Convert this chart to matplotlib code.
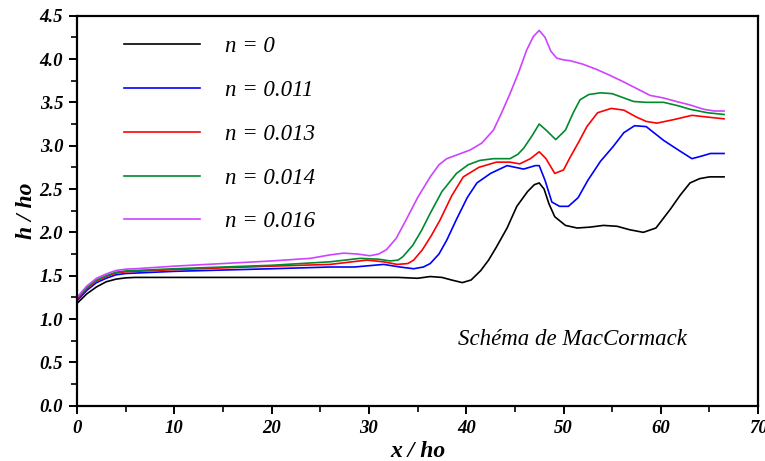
import matplotlib
matplotlib.use("Agg")
import matplotlib.pyplot as plt
from matplotlib.ticker import MultipleLocator, FormatStrFormatter

x_n0 = [0, 1, 2, 3, 4, 5, 6, 10, 15, 20, 26, 30, 33, 35, 36.3, 37.5, 38.5, 39.6, 40.5, 41.5,
        42.3, 43.1, 44.2, 45.2, 46.3, 47.0, 47.5, 48.0, 48.5, 49.1, 50.2, 51.4, 52.7, 54.1,
        55.5, 56.8, 58.2, 59.5, 61.0, 62.0, 63.0, 64.0, 65.0, 66.5]
h_n0 = [1.18, 1.29, 1.37, 1.43, 1.46, 1.475, 1.48, 1.48, 1.48, 1.48, 1.48, 1.48, 1.48, 1.47,
        1.49, 1.48, 1.45, 1.42, 1.45, 1.56, 1.68, 1.83, 2.05, 2.30, 2.47, 2.55, 2.57, 2.50,
        2.33, 2.18, 2.08, 2.05, 2.06, 2.08, 2.07, 2.03, 2.00, 2.05, 2.27, 2.43, 2.57, 2.62,
        2.64, 2.64]

x_n011 = [0, 1, 2, 3, 4, 5, 6, 10, 15, 20, 26, 28.5, 31.5, 33.2, 34.6, 35.6, 36.3, 37.2,
          38.0, 39.0, 40.1, 41.1, 42.5, 44.2, 45.9, 47.1, 47.5, 48.1, 48.8, 49.6, 50.5,
          51.5, 52.5, 53.8, 55.1, 56.2, 57.3, 58.5, 60.3, 61.8, 63.2, 64.2, 65.1, 66.5]
h_n011 = [1.21, 1.33, 1.42, 1.47, 1.51, 1.525, 1.53, 1.55, 1.565, 1.58, 1.60, 1.60, 1.63,
          1.60, 1.58, 1.60, 1.64, 1.75, 1.91, 2.15, 2.40, 2.57, 2.68, 2.77, 2.73, 2.77, 2.77,
          2.60, 2.35, 2.30, 2.30, 2.40, 2.60, 2.82, 2.99, 3.15, 3.23, 3.22, 3.06, 2.95, 2.85,
          2.88, 2.91, 2.91]

x_n013 = [0, 1, 2, 3, 4, 5, 6, 10, 15, 20, 26, 29.8, 31.5, 32.9, 34.0, 34.6, 35.5, 36.4,
          37.3, 38.5, 39.7, 41.3, 43.1, 44.5, 45.5, 46.6, 47.5, 48.2, 49.1, 50.0, 50.7,
          51.6, 52.4, 53.5, 54.9, 56.2, 57.5, 58.5, 59.6, 61.3, 63.2, 64.8, 66.5]
h_n013 = [1.23, 1.35, 1.44, 1.49, 1.53, 1.545, 1.55, 1.57, 1.59, 1.61, 1.63, 1.68, 1.66,
          1.63, 1.64, 1.68, 1.80, 1.96, 2.14, 2.42, 2.64, 2.75, 2.81, 2.81, 2.79, 2.85, 2.93,
          2.85, 2.68, 2.72, 2.87, 3.05, 3.22, 3.38, 3.43, 3.41, 3.33, 3.28, 3.26, 3.30, 3.35,
          3.33, 3.31]

x_n014 = [0, 1, 2, 3, 4, 5, 6, 10, 15, 20, 26, 29.1, 31.0, 32.2, 33.0, 33.5, 34.5, 35.4,
          36.3, 37.5, 39.0, 40.2, 41.4, 42.8, 44.5, 45.3, 45.9, 46.8, 47.5, 48.3, 49.2,
          50.2, 51.0, 51.7, 52.6, 53.8, 55.0, 57.2, 58.5, 60.3, 61.8, 63.0, 64.8, 66.5]
h_n014 = [1.24, 1.36, 1.45, 1.50, 1.54, 1.555, 1.56, 1.58, 1.60, 1.62, 1.66, 1.70, 1.69,
          1.67, 1.68, 1.72, 1.85, 2.02, 2.22, 2.47, 2.68, 2.78, 2.83, 2.85, 2.85, 2.90, 2.97,
          3.12, 3.25, 3.17, 3.07, 3.18, 3.38, 3.53, 3.59, 3.61, 3.60, 3.51, 3.50, 3.50, 3.46,
          3.42, 3.38, 3.36]

x_n016 = [0, 1, 2, 3, 4, 5, 6, 10, 15, 20, 24, 26, 27.4, 28.8, 30.1, 31.0, 31.8, 32.8,
          33.8, 35.0, 36.3, 37.2, 38.0, 39.2, 40.4, 41.6, 42.8, 43.6, 44.5, 45.4, 46.2,
          46.9, 47.5, 48.1, 48.7, 49.3, 50.0, 50.7, 52.0, 53.4, 54.8, 56.1, 57.5, 58.9,
          60.3, 61.6, 63.0, 64.4, 65.5, 66.5]
h_n016 = [1.25, 1.38, 1.47, 1.52, 1.56, 1.575, 1.58, 1.61, 1.64, 1.67, 1.70, 1.74, 1.76,
          1.75, 1.73, 1.75, 1.80, 1.93, 2.14, 2.40, 2.64, 2.78, 2.85, 2.90, 2.95, 3.03, 3.18,
          3.37, 3.60, 3.85, 4.10, 4.26, 4.33, 4.25, 4.09, 4.01, 3.99, 3.98, 3.94, 3.88, 3.81,
          3.74, 3.66, 3.58, 3.55, 3.51, 3.47, 3.42, 3.40, 3.40]

series = [
    (x_n0, h_n0, "black", "n = 0"),
    (x_n011, h_n011, "#0000ff", "n = 0.011"),
    (x_n013, h_n013, "#ff0000", "n = 0.013"),
    (x_n014, h_n014, "#008a2e", "n = 0.014"),
    (x_n016, h_n016, "#cc44ff", "n = 0.016"),
]

plt.rcParams["font.family"] = ["Liberation Serif", "DejaVu Serif"]

fig = plt.figure(figsize=(7.65, 4.61), dpi=100)
ax = fig.add_axes([0.1007, 0.12, 0.8903, 0.846])

for xs, hs, col, lab in series:
    ax.plot(xs, hs, color=col, lw=1.2, label=lab)

ax.set_xlim(0, 70)
ax.set_ylim(0, 4.5)
ax.xaxis.set_major_locator(MultipleLocator(10))
ax.xaxis.set_minor_locator(MultipleLocator(5))
ax.yaxis.set_major_locator(MultipleLocator(0.5))
ax.yaxis.set_minor_locator(MultipleLocator(0.25))
ax.yaxis.set_major_formatter(FormatStrFormatter("%.1f"))

for sp in ax.spines.values():
    sp.set_linewidth(1.6)
ax.tick_params(which="major", direction="out", length=6, width=1.4,
               top=False, right=False, pad=4)
ax.tick_params(which="minor", direction="out", length=4, width=1.2,
               top=False, right=False)
for lbl in ax.get_xticklabels() + ax.get_yticklabels():
    lbl.set_fontweight("bold")
    lbl.set_fontstyle("italic")
    lbl.set_fontsize(13.5)

ax.set_xlabel("x / ho", fontsize=17, fontweight="bold", style="italic", labelpad=3)
ax.set_ylabel("h / ho", fontsize=17, fontweight="bold", style="italic", labelpad=2)

leg = ax.legend(loc="upper left", bbox_to_anchor=(0.039, 1.0), frameon=False,
                handlelength=3.3, handletextpad=1.1, labelspacing=0.99,
                prop={"family": "Liberation Serif", "style": "italic", "size": 16.5})

ax.text(0.727, 0.17, "Schéma de MacCormack", transform=ax.transAxes,
        ha="center", va="center", fontsize=16.5, style="italic")

fig.savefig("out.png", dpi=100)
